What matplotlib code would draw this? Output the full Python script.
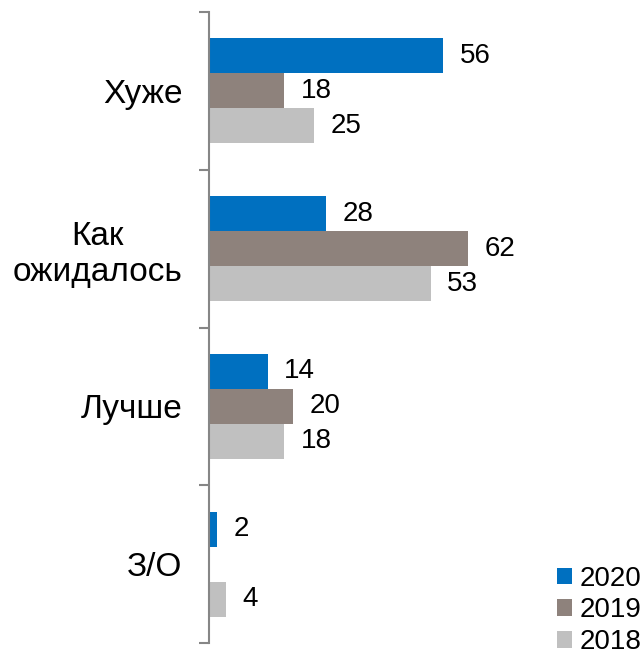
import numpy as np
import matplotlib.pyplot as plt

# Data
categories = ['Хуже', 'Как\nожидалось', 'Лучше', 'З/О']
years = ['2020', '2019', '2018']
v2020 = [56, 28, 14, 2]
v2019 = [18, 62, 20, None]
v2018 = [25, 53, 18, 4]
colors = ['#0070C0', '#8E827C', '#C0C0C0']

plt.rcParams['font.family'] = ['Liberation Sans', 'DejaVu Sans']

fig = plt.figure(figsize=(6.43, 6.57), dpi=100)
ax = fig.add_axes([209 / 643, 14 / 657, 434 / 643, 631 / 657])

y = np.arange(len(categories))
h = 0.222
offsets = [-h, 0, h]

for series, off, col, name in zip([v2020, v2019, v2018], offsets, colors, years):
    vals = [v if v is not None else 0 for v in series]
    bars = ax.barh(y + off, vals, height=h, color=col, label=name)
    for b, v in zip(bars, series):
        if v is None:
            continue
        ax.annotate(str(v), (b.get_width(), b.get_y() + b.get_height() / 2),
                    xytext=(12, 0), textcoords='offset points',
                    ha='left', va='center', fontsize=20)

ax.set_xlim(0, 434 / 4.18)
ax.set_ylim(len(categories) - 0.5, -0.5)

ax.set_yticks(y)
ax.set_yticklabels(categories, fontsize=24, ha='right', multialignment='center')
ax.tick_params(axis='y', which='major', length=0, pad=19)
ax.set_yticks(np.arange(len(categories) + 1) - 0.5, minor=True)
ax.tick_params(axis='y', which='minor', length=7, width=1.5, color='#868686')
ax.set_xticks([])

for s in ['top', 'right', 'bottom']:
    ax.spines[s].set_visible(False)
ax.spines['left'].set_color('#868686')
ax.spines['left'].set_linewidth(1.5)

fig.legend(loc='lower right', bbox_to_anchor=(0.997, 0.003), frameon=False,
           fontsize=20, handlelength=0.55, handleheight=0.55,
           handletextpad=0.25, labelspacing=0.2, borderpad=0, borderaxespad=0)

fig.savefig('out.png', dpi=100)
